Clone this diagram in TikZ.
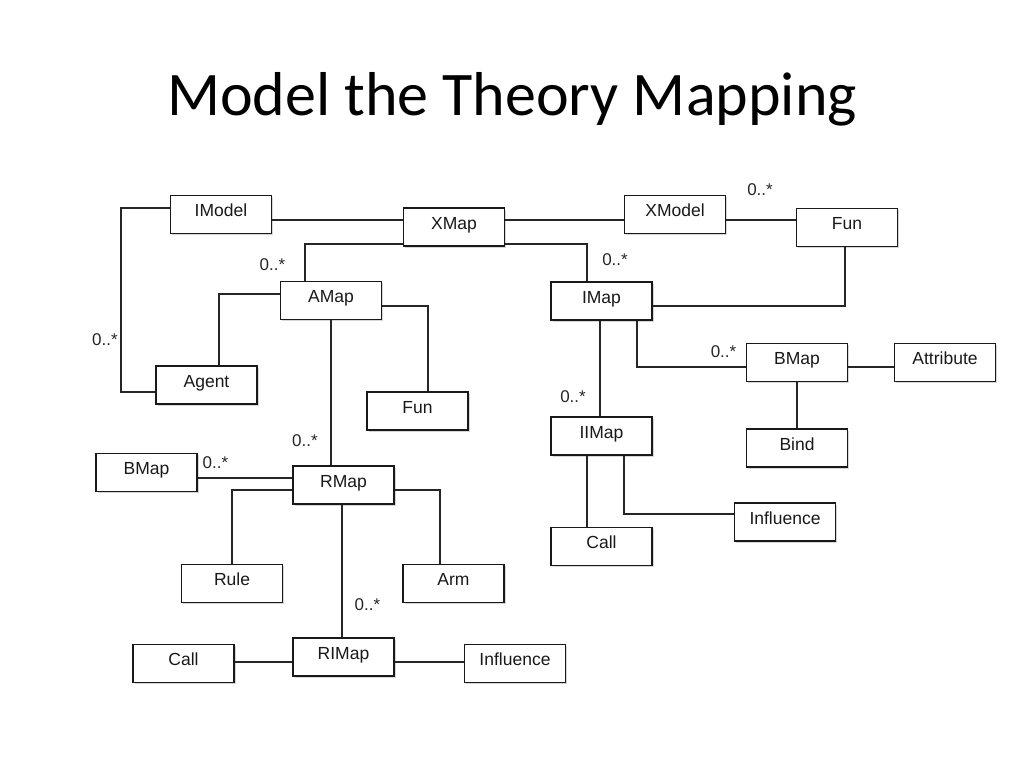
\documentclass[tikz,border=0pt]{standalone}
\usepackage{fontspec}
\setmainfont{Liberation Sans}
\newfontfamily\titlefont{Carlito}
\usetikzlibrary{shadows}
\begin{document}
\begin{tikzpicture}[x=1pt,y=-1pt,
  box/.style={draw=black!90,line width=1.6pt,fill=white,minimum width=101pt,minimum height=38pt,
    inner sep=0pt,text height=12.5pt,text depth=8pt,font=\fontsize{17.5}{19}\selectfont,text=black!90,
    drop shadow={shadow xshift=1.8pt,shadow yshift=-1.8pt,fill=black!18,opacity=0.9}},
  conn/.style={draw=black!85,line width=1.8pt},
  mult/.style={inner sep=0pt,font=\fontsize{17}{19}\selectfont,text=black!85}]
\useasboundingbox (0,0) rectangle (1024,768);
\node[anchor=base,font=\titlefont\fontsize{62}{70}\selectfont] (title) at (512,115) {Model the Theory Mapping};

\node[box] (imodel) at (221,214.5) {IModel};
\node[box] (xmap) at (454,227) {XMap};
\node[box] (xmodel) at (675,214.5) {XModel};
\node[box] (funr) at (847,227.5) {Fun};
\node[box] (amap) at (331,300.5) {AMap};
\node[box] (imap) at (601.5,301) {IMap};
\node[box] (agent) at (206.5,385) {Agent};
\node[box] (funl) at (417.5,411) {Fun};
\node[box] (bmapr) at (797,362.5) {BMap};
\node[box] (attr) at (945,362.5) {Attribute};
\node[box] (iimap) at (601.5,436) {IIMap};
\node[box] (bind) at (797,448) {Bind};
\node[box] (bmapl) at (146.5,472.5) {BMap};
\node[box] (rmap) at (343.5,485) {RMap};
\node[box] (influr) at (785,522) {Influence};
\node[box] (callr) at (601.5,546.5) {Call};
\node[box] (rule) at (232,583.5) {Rule};
\node[box] (arm) at (453.5,583.5) {Arm};
\node[box] (rimap) at (343.5,657) {RIMap};
\node[box] (calll) at (183.5,663.5) {Call};
\node[box] (influl) at (515,663.5) {Influence};

% connectors
\draw[conn] ([yshift=-5.5pt]imodel.east) -- ([yshift=-5.5pt]imodel.east -| xmap.west);
\draw[conn] ([yshift=7pt]xmap.east) -- ([yshift=7pt]xmap.east -| xmodel.west);
\draw[conn] ([yshift=-5.5pt]xmodel.east) -- ([yshift=-5.5pt]xmodel.east -| funr.west);
\draw[conn] ([yshift=-17pt]xmap.west) -| ([xshift=-26pt]amap.north);
\draw[conn] ([yshift=-17pt]xmap.east) -| ([xshift=-14.5pt]imap.north);
\draw[conn] ([yshift=-5pt]imap.east) -| ([xshift=-2pt]funr.south);
\draw[conn] ([yshift=6.5pt]amap.west) -| ([xshift=12.5pt]agent.north);
\draw[conn] ([yshift=6.5pt]imodel.west) -- ++(-49,0) |- ([yshift=-7pt]agent.west);
\draw[conn] ([yshift=-5.5pt]amap.east) -| ([xshift=10.5pt]funl.north);
\draw[conn] (amap.south) -- (amap.south |- rmap.north);
\draw[conn] ([yshift=-5.5pt]bmapl.east) -- ([yshift=-5.5pt]bmapl.east -| rmap.west);
\draw[conn] ([yshift=-5pt]rmap.west) -| (rule.north);
\draw[conn] ([yshift=-5pt]rmap.east) -| ([xshift=-13.5pt]arm.north);
\draw[conn] ([xshift=-1.5pt]rmap.south) -- ([xshift=-1.5pt]rimap.north);
\draw[conn] ([yshift=-5pt]rimap.west) -- ([yshift=-5pt]rimap.west -| calll.east);
\draw[conn] ([yshift=-5pt]rimap.east) -- ([yshift=-5pt]rimap.east -| influl.west);
\draw[conn] ([xshift=-1.5pt]imap.south) -- ([xshift=-1.5pt]iimap.north);
\draw[conn] ([xshift=35.5pt]imap.south) |- ([yshift=-4.5pt]bmapr.west);
\draw[conn] ([yshift=-4.5pt]bmapr.east) -- ([yshift=-4.5pt]attr.west);
\draw[conn] (bmapr.south) -- (bind.north);
\draw[conn] ([xshift=-14.5pt]iimap.south) -- ([xshift=-14.5pt]callr.north);
\draw[conn] ([xshift=22.5pt]iimap.south) |- ([yshift=8pt]influr.west);

% multiplicities
\node[mult] (m1) at (760,190) {0..*};
\node[mult] (m2) at (272.5,265) {0..*};
\node[mult] (m3) at (615,260) {0..*};
\node[mult] (m4) at (105,340) {0..*};
\node[mult] (m5) at (723.5,352) {0..*};
\node[mult] (m6) at (573,397) {0..*};
\node[mult] (m7) at (305,441) {0..*};
\node[mult] (m8) at (215.5,463) {0..*};
\node[mult] (m9) at (367.5,605) {0..*};
\end{tikzpicture}
\end{document}
